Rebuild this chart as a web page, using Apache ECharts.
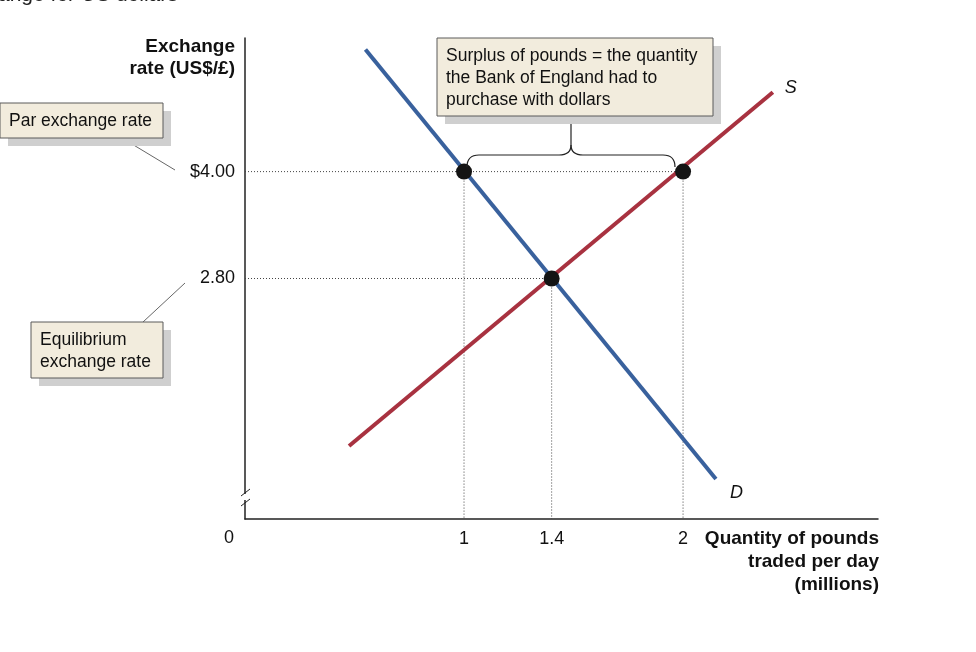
<!DOCTYPE html>
<html>
<head>
<meta charset="utf-8">
<script src="https://cdn.jsdelivr.net/npm/echarts@6/dist/echarts.min.js"></script>
<style>
  html, body { margin: 0; padding: 0; background: #fff; }
  #chart { width: 976px; height: 652px; }
</style>
</head>
<body>
<div id="chart"></div>
<script>
// values
var demandX = [0.55, 2.15]
var demandY = [5.37, 0.55]
var supplyX = [0.475, 2.41]
var supplyY = [0.92, 4.89]
var parRate = 4.0
var eqRate = 2.8
var eqQty = 1.4
var demandAtPar = 1
var supplyAtPar = 2
var xTickLabels = [1, 1.4, 2]
var yTickLabels = { '4': '$4.00', '2.8': '2.80' }

var yMin = 0.1
var yMax = 5.5
var font = '"Liberation Sans", Arial, sans-serif'

function pairs (xs, ys) {
  return xs.map(function (x, i) { return [x, ys[i]] })
}

// dotted guide segments, built from the key values
var guides = [
  [[0, parRate], [supplyAtPar, parRate]],
  [[0, eqRate], [eqQty, eqRate]],
  [[demandAtPar, parRate], [demandAtPar, yMin]],
  [[eqQty, eqRate], [eqQty, yMin]],
  [[supplyAtPar, parRate], [supplyAtPar, yMin]]
]

var series = guides.map(function (g) {
  return {
    type: 'line',
    data: g,
    symbol: 'none',
    silent: true,
    z: 1,
    lineStyle: { color: '#444', width: 1, type: [1, 2] }
  }
})

series.push({
  type: 'line',
  name: 'D',
  data: pairs(demandX, demandY),
  symbol: 'none',
  z: 3,
  lineStyle: { color: '#39619d', width: 4 },
  endLabel: {
    show: true, formatter: 'D', offset: [6, 14],
    fontFamily: font, fontStyle: 'italic', fontSize: 18, color: '#111'
  }
})
series.push({
  type: 'line',
  name: 'S',
  data: pairs(supplyX, supplyY),
  symbol: 'none',
  z: 3,
  lineStyle: { color: '#a83240', width: 4 },
  endLabel: {
    show: true, formatter: 'S', offset: [4, -4],
    fontFamily: font, fontStyle: 'italic', fontSize: 18, color: '#111'
  }
})
series.push({
  type: 'scatter',
  data: [[demandAtPar, parRate], [eqQty, eqRate], [supplyAtPar, parRate]],
  symbolSize: 16,
  z: 5,
  itemStyle: { color: '#141414', opacity: 1 }
})

function near (v, list) {
  for (var i = 0; i < list.length; i++) {
    if (Math.abs(v - list[i]) < 1e-6) return true
  }
  return false
}

function box (x, y, w, h, lines) {
  return [
    { type: 'rect', shape: { x: x + 8, y: y + 8, width: w, height: h },
      style: { fill: '#cfcfcf' }, z: 10 },
    { type: 'rect', shape: { x: x, y: y, width: w, height: h },
      style: { fill: '#f2ecdd', stroke: '#5a5a5a', lineWidth: 1 }, z: 11 },
    { type: 'text', x: x + 9, y: y + 7, z: 12,
      style: { text: lines.join('\n'), font: '17.5px ' + font, fill: '#111', lineHeight: 22 } }
  ]
}

var ink = { stroke: '#222', lineWidth: 1.2, fill: null }
function seg (x1, y1, x2, y2) {
  return { type: 'line', z: 9, shape: { x1: x1, y1: y1, x2: x2, y2: y2 }, style: ink }
}
function curl (x1, y1, cx, cy, x2, y2) {
  return { type: 'bezierCurve', z: 9, shape: { x1: x1, y1: y1, cpx1: cx, cpy1: cy, x2: x2, y2: y2 }, style: ink }
}

var graphics = [].concat(
  // partial title clipped at the top
  [{ type: 'text', x: -2, y: -15, style: { text: 'ange for US dollars', font: '21px ' + font, fill: '#222' } }],
  // leader lines
  [{ type: 'line', shape: { x1: 122, y1: 138, x2: 175, y2: 170 }, style: { stroke: '#666', lineWidth: 1 }, z: 9 },
   { type: 'line', shape: { x1: 143, y1: 322, x2: 185, y2: 283 }, style: { stroke: '#666', lineWidth: 1 }, z: 9 }],
  box(0, 103, 163, 35, ['Par exchange rate']),
  box(31, 322, 132, 56, ['Equilibrium', 'exchange rate']),
  box(437, 38, 276, 78, ['Surplus of pounds = the quantity', 'the Bank of England had to', 'purchase with dollars']),
  // brace over the surplus
  [curl(467, 167, 467, 155, 479, 155),
   seg(479, 155, 559, 155),
   curl(559, 155, 571, 155, 571, 145),
   curl(571, 145, 571, 155, 583, 155),
   seg(583, 155, 663, 155),
   curl(663, 155, 675, 155, 675, 167),
   seg(571, 145, 571, 116)],
  // axis break on y axis
  [{ type: 'rect', shape: { x: 240, y: 494, width: 10, height: 6 }, style: { fill: '#fff' }, z: 20 },
   { type: 'line', shape: { x1: 241, y1: 496, x2: 250, y2: 489 }, style: { stroke: '#222', lineWidth: 1 }, z: 21 },
   { type: 'line', shape: { x1: 241, y1: 506, x2: 250, y2: 499 }, style: { stroke: '#222', lineWidth: 1 }, z: 21 }],
  // origin label
  [{ type: 'text', x: 229, y: 529, style: { text: '0', font: '18px ' + font, fill: '#111', align: 'center' } }],
  // axis titles
  [{ type: 'text', x: 235, y: 36, style: { text: 'Exchange\nrate (US$/£)', font: 'bold 19px ' + font, fill: '#111', align: 'right', lineHeight: 22 } },
   { type: 'text', x: 879, y: 527, style: { text: 'Quantity of pounds\ntraded per day\n(millions)', font: 'bold 19px ' + font, fill: '#111', align: 'right', lineHeight: 23 } }]
)

var chart = echarts.init(document.getElementById('chart'))
chart.setOption({
  animation: false,
  grid: { left: 245, right: 98, top: 38, bottom: 133 },
  xAxis: {
    type: 'value', min: 0, max: 2.89, interval: 0.2,
    splitLine: { show: false },
    axisTick: { show: false },
    axisLine: { lineStyle: { color: '#222', width: 1.5 } },
    axisLabel: {
      margin: 11, fontFamily: font, fontSize: 18, color: '#111',
      formatter: function (v) { return near(v, xTickLabels) ? String(v) : '' }
    }
  },
  yAxis: {
    type: 'value', min: yMin, max: yMax, interval: 0.1,
    splitLine: { show: false },
    axisTick: { show: false },
    axisLine: { show: true, lineStyle: { color: '#222', width: 1.5 } },
    axisLabel: {
      margin: 10, fontFamily: font, fontSize: 18, color: '#111',
      formatter: function (v) {
        var k = String(Math.round(v * 10) / 10)
        return yTickLabels[k] || ''
      }
    }
  },
  series: series,
  graphic: graphics
})
</script>
</body>
</html>
